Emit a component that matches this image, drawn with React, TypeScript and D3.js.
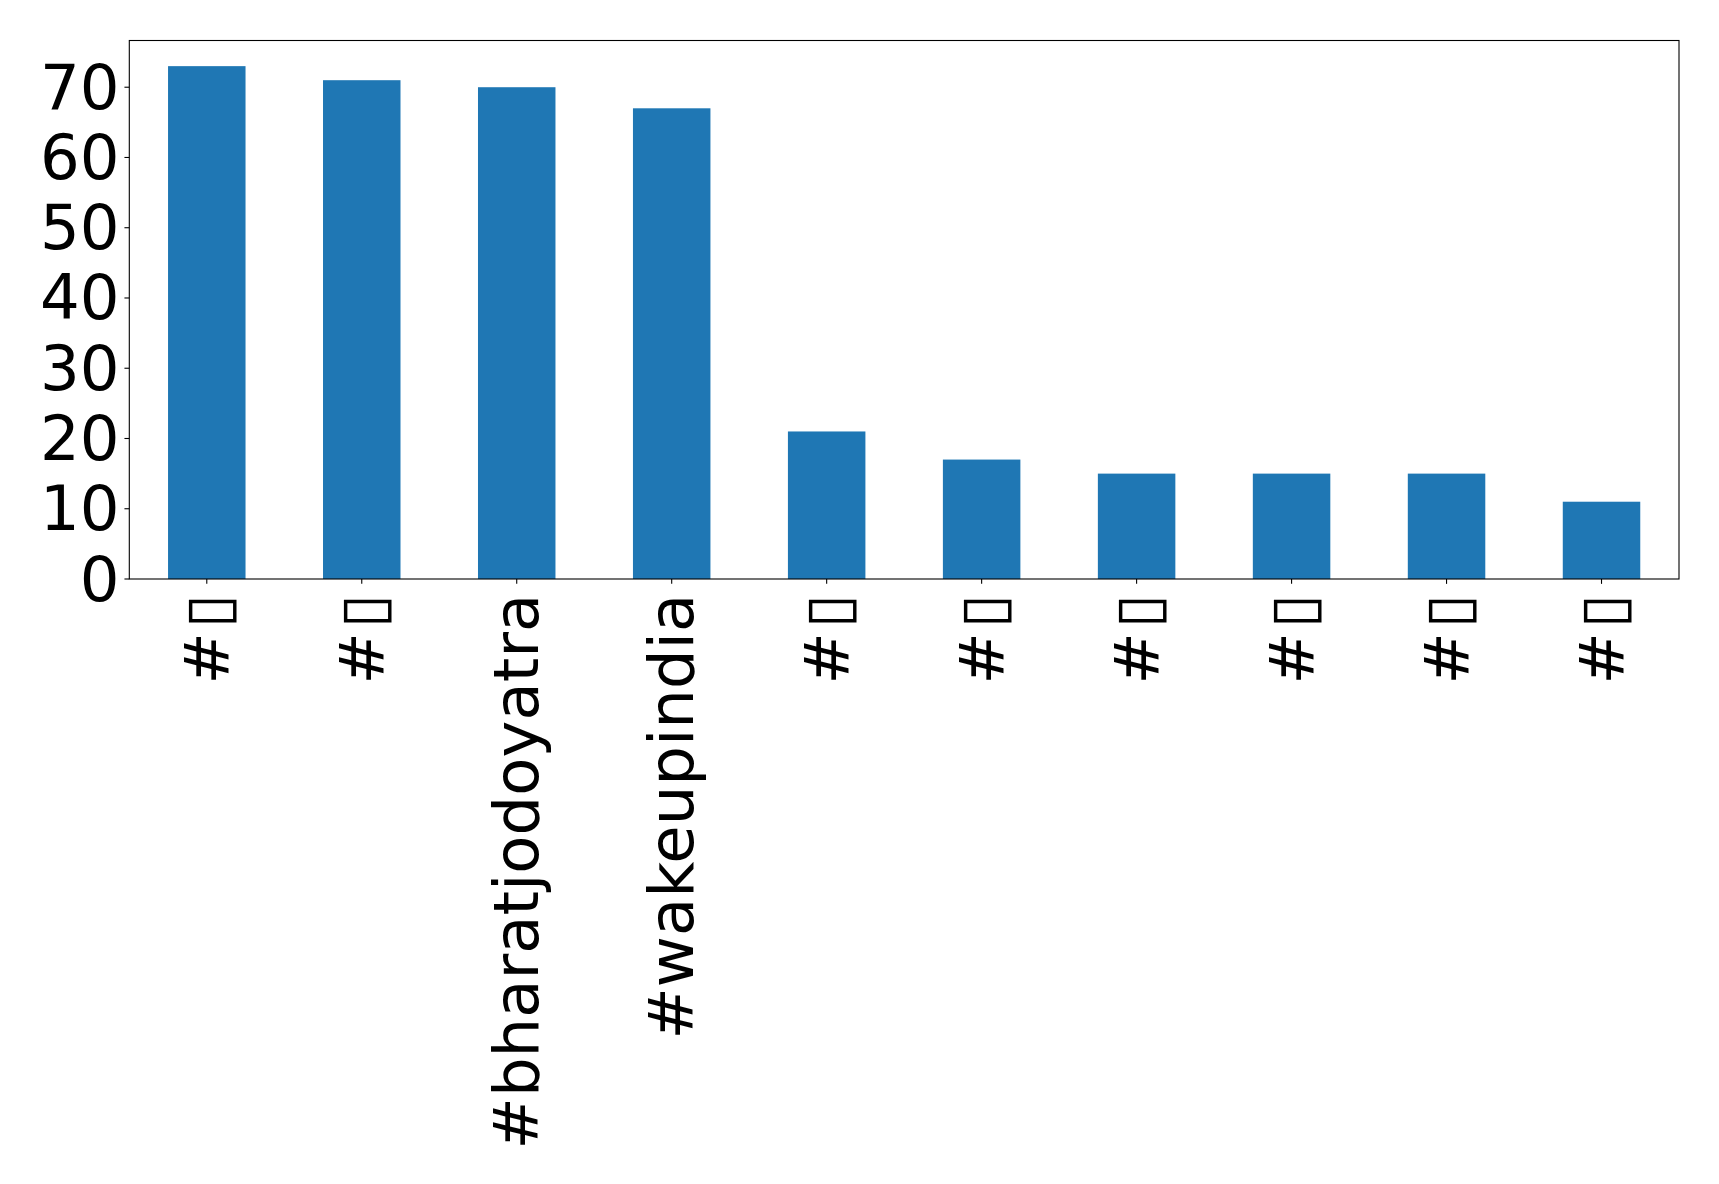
import React from "react";
import * as d3 from "d3";

const categories: string[] = [
  "#\u25AF",
  "#\u25AF",
  "#bharatjodoyatra",
  "#wakeupindia",
  "#\u25AF",
  "#\u25AF",
  "#\u25AF",
  "#\u25AF",
  "#\u25AF",
  "#\u25AF",
];
const values: number[] = [73, 71, 70, 67, 21, 17, 15, 15, 15, 11];
const yTicks: number[] = [0, 10, 20, 30, 40, 50, 60, 70];

const W = 1719;
const H = 1184;
const left = 129.3;
const right = 1679;
const top = 40.5;
const bottom = 579;
const FONT = "DejaVu Sans, sans-serif";
const FS = 62.5;
const TICK = 4.86;
const PAD = 4.86;
const BAR_COLOR = "#1f77b4";

function renderLabel(c: string) {
  if (c.endsWith("\u25AF")) {
    return (
      <>
        <tspan>{c.slice(0, -1)}</tspan>
        <tspan dx={4}>{"\u25AF"}</tspan>
      </>
    );
  }
  return c;
}

export default function App() {
  const x = d3
    .scaleLinear()
    .domain([-0.5, categories.length - 0.5])
    .range([left, right]);
  const yMax = d3.max(values)! * 1.05;
  const y = d3.scaleLinear().domain([0, yMax]).range([bottom, top]);
  const barW = x(0.5) - x(0);

  return (
    <svg
      width={W}
      height={H}
      style={{ position: "absolute", left: 0, top: 0, background: "#fff" }}
    >
      <rect x={0} y={0} width={W} height={H} fill="#fff" />
      {values.map((v, i) => (
        <rect
          key={i}
          x={x(i) - barW / 2}
          y={y(v)}
          width={barW}
          height={y(0) - y(v)}
          fill={BAR_COLOR}
        />
      ))}
      <rect
        x={left}
        y={top}
        width={right - left}
        height={bottom - top}
        fill="none"
        stroke="#000"
        strokeWidth={1.1}
      />
      {yTicks.map((t) => (
        <g key={t}>
          <line
            x1={left - TICK}
            x2={left}
            y1={y(t)}
            y2={y(t)}
            stroke="#000"
            strokeWidth={1.1}
          />
          <text
            x={left - TICK - PAD}
            y={y(t)}
            textAnchor="end"
            dominantBaseline="central"
            fontFamily={FONT}
            fontSize={FS}
            fill="#000"
          >
            {t}
          </text>
        </g>
      ))}
      {categories.map((c, i) => (
        <g key={i}>
          <line
            x1={x(i)}
            x2={x(i)}
            y1={bottom}
            y2={bottom + TICK}
            stroke="#000"
            strokeWidth={1.1}
          />
          <text
            transform={`translate(${x(i)},${bottom + TICK + PAD + 5}) rotate(-90)`}
            textAnchor="end"
            dominantBaseline="central"
            fontFamily={FONT}
            fontSize={FS}
            fill="#000"
          >
            {renderLabel(c)}
          </text>
        </g>
      ))}
    </svg>
  );
}
